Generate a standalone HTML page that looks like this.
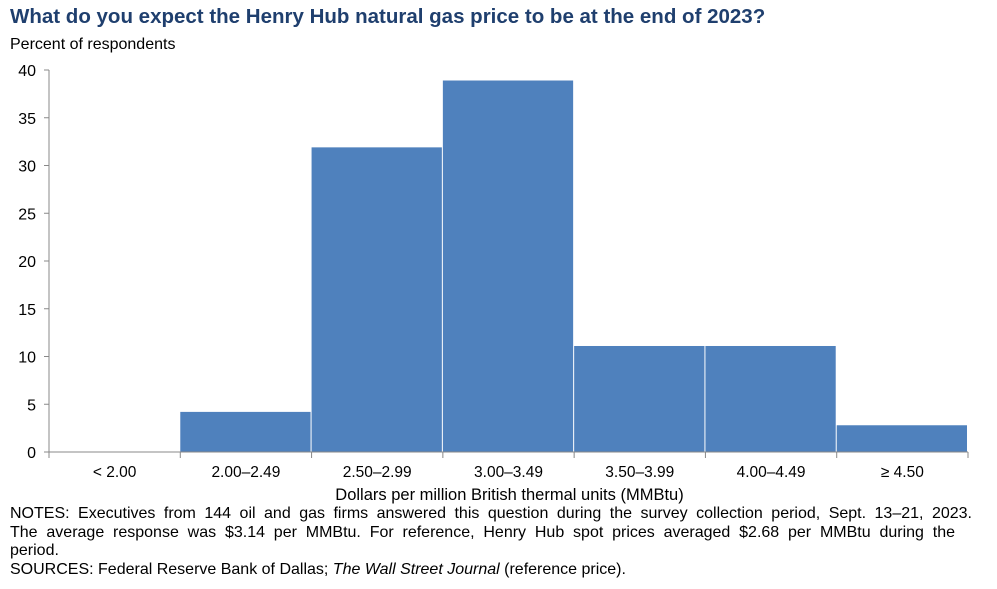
<!DOCTYPE html>
<html><head><meta charset="utf-8"><style>
body{margin:0;background:#fff;width:997px;height:589px;overflow:hidden;font-family:"Liberation Sans",Arial,sans-serif;}
.t{position:absolute;left:10px;top:5px;font-size:20.5px;font-weight:bold;color:#1f3f6e;white-space:nowrap;}
.s{position:absolute;left:10px;top:36px;font-size:16px;color:#000;}
.n{position:absolute;left:10px;top:505px;width:962px;font-size:16px;line-height:18.5px;color:#000;}
.j{text-align:justify;text-align-last:justify;white-space:nowrap;}
</style></head><body>
<div class="t">What do you expect the Henry Hub natural gas price to be at the end of 2023?</div>
<div class="s">Percent of respondents</div>
<svg id="c" width="997" height="589" style="position:absolute;left:0;top:0"></svg>
<div class="n"><div class="j">NOTES: Executives from 144 oil and gas firms answered this question during the survey collection period, Sept. 13–21, 2023.</div><div class="j" style="width:945px">The average response was $3.14 per MMBtu. For reference, Henry Hub spot prices averaged $2.68 per MMBtu during the</div><div>period.</div><div>SOURCES: Federal Reserve Bank of Dallas; <i>The Wall Street Journal</i> (reference price).</div></div>
<script>
const categories=["< 2.00","2.00–2.49","2.50–2.99","3.00–3.49","3.50–3.99","4.00–4.49","≥ 4.50"];
const values=[0,4.2,31.9,38.9,11.1,11.1,2.8];
const yTicks=[0,5,10,15,20,25,30,35,40];
const svg=document.getElementById('c');const NS='http://www.w3.org/2000/svg';
const x0=49,x1=968,y0=452,y1=70,yMax=40;
const bw=(x1-x0)/categories.length;
const X=i=>x0+i*bw;const Y=v=>y0-(v/yMax)*(y0-y1);
function mk(t,a){const e=document.createElementNS(NS,t);for(const k in a)e.setAttribute(k,a[k]);svg.appendChild(e);return e;}
values.forEach((v,i)=>{if(v<=0)return;const r=mk('rect',{x:X(i),y:Y(v),width:bw-1,height:y0-Y(v),fill:'#4f81bd'});

});
const ya=mk('line',{x1:x0,y1:y0,x2:x0,y2:y1,stroke:'#888'});


yTicks.forEach(t=>{mk('line',{x1:x0-5,x2:x0,y1:Y(t),y2:Y(t),stroke:'#888'});
const tx=mk('text',{x:36,y:Y(t)+6,'text-anchor':'end','font-size':16,fill:'#000'});tx.textContent=t;

});
const xa=mk('line',{x1:x0,y1:y0,x2:x1,y2:y0,stroke:'#888'});


for(let i=0;i<=categories.length;i++)mk('line',{x1:X(i),x2:X(i),y1:y0,y2:y0+6,stroke:'#888'});
categories.forEach((c,i)=>{const tx=mk('text',{x:X(i)+bw/2,y:477,'text-anchor':'middle','font-size':15.5,fill:'#000'});tx.textContent=c;

});
const xt=mk('text',{x:(x0+x1)/2+1,y:500,'text-anchor':'middle','font-size':16.5,fill:'#000'});xt.textContent='Dollars per million British thermal units (MMBtu)';


</script>
</body></html>
